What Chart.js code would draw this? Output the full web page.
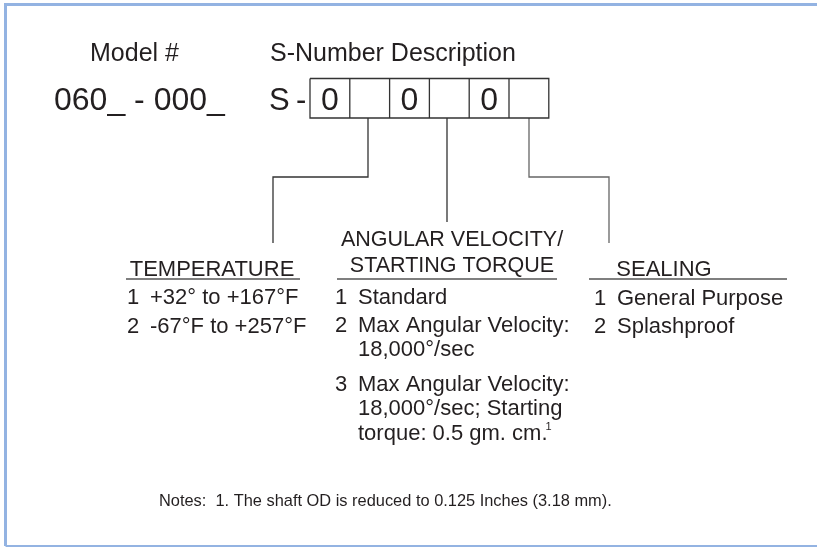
<!DOCTYPE html>
<html>
<head>
<meta charset="utf-8">
<title>S-Number Description</title>
<script src="https://cdn.jsdelivr.net/npm/chart.js@4.4.1/dist/chart.umd.min.js"></script>
<style>
	html, body { margin: 0; padding: 0; background: #ffffff; }
	canvas { display: block; }
</style>
</head>
<body>
<canvas id="chart-area" width="817" height="547"></canvas>
<script>
// --- data ---
var modelLabel = 'Model #';
var modelNumber = '060_ - 000_';
var codeTitle = 'S-Number Description';
var codePrefix = ['S', '-'];
var codeCells = ['0', '', '0', '', '0', ''];
var groupTitles = [['TEMPERATURE'], ['ANGULAR VELOCITY/', 'STARTING TORQUE'], ['SEALING']];
var temperatureOptions = [['+32° to +167°F'], ['-67°F to +257°F']];
var velocityOptions = [['Standard'], ['Max Angular Velocity:', '18,000°/sec'], ['Max Angular Velocity:', '18,000°/sec; Starting', 'torque: 0.5 gm. cm.']];
var sealingOptions = [['General Purpose'], ['Splashproof']];
var footnoteOn = [1, 2, 2]; // group, option, line that carries the note mark
var noteText = 'Notes:  1. The shaft OD is reduced to 0.125 Inches (3.18 mm).';

// --- layout (pixels) ---
var W = 817, H = 547;
var INK = '#231f20';
var LINE = '#333333';
var FRAME = '#93b3e2';
var FONT = '"Liberation Sans", Arial, sans-serif';
var box = { left: 310, top: 78.5, bottom: 118, cell: 39.8 };
var groups = [
	{ center: 212, uLeft: 126, uRight: 300, titleBase: [276], titleSize: 22, num: 127, text: 150, rows: [304, 333], opts: temperatureOptions },
	{ center: 452, uLeft: 337, uRight: 557, titleBase: [246, 272], titleSize: 21.5, num: 335, text: 358, rows: [304, 332, 356, 391, 415, 440], opts: velocityOptions },
	{ center: 664, uLeft: 589, uRight: 787, titleBase: [276], titleSize: 22, num: 594, text: 617, rows: [305, 333], opts: sealingOptions }
];
var connectors = [
	[[368, 118], [368, 177], [273, 177], [273, 243]],
	[[447, 118], [447, 222]],
	[[529, 118], [529, 177], [609, 177], [609, 243]]
];

function pts(list) {
	return list.map(function(p){ return { x: p[0], y: p[1] }; });
}
function seg(data, color, width) {
	return { data: data, showLine: true, borderColor: color, borderWidth: width, pointRadius: 0, tension: 0, fill: false, clip: false };
}

var datasets = [];
// frame
datasets.push(seg(pts([[5.5, 546], [5.5, 4.5], [817, 4.5]]), FRAME, 3));
datasets.push(seg(pts([[5.5, 546], [817, 546]]), FRAME, 2));
// code boxes
var boxRight = box.left + box.cell * codeCells.length;
datasets.push(seg(pts([[box.left, box.top], [boxRight, box.top], [boxRight, box.bottom], [box.left, box.bottom], [box.left, box.top]]), LINE, 1.3));
for (var c = 1; c < codeCells.length; c++) {
	var cx = box.left + box.cell * c;
	datasets.push(seg(pts([[cx, box.top], [cx, box.bottom]]), LINE, 1.3));
}
// connectors
connectors.forEach(function(path, i){
	datasets.push(seg(pts(path), i == 2 ? '#666666' : LINE, 1.3));
});
// underlines
groups.forEach(function(g){
	datasets.push(seg(pts([[g.uLeft, 279], [g.uRight, 279]]), '#555555', 1.3));
});

var textPlugin = {
	id: 'diagramText',
	afterDatasetsDraw: function(chart) {
		var ctx = chart.ctx;
		var sx = chart.scales.x, sy = chart.scales.y;
		function put(str, x, y, size, align) {
			ctx.font = size + 'px ' + FONT;
			ctx.textAlign = align || 'left';
			ctx.textBaseline = 'alphabetic';
			ctx.fillStyle = INK;
			ctx.fillText(str, sx.getPixelForValue(x), sy.getPixelForValue(y));
		}
		ctx.save();
		put(modelLabel, 90, 61, 25);
		put(codeTitle, 270, 61, 25);
		put(modelNumber, 54, 110, 32);
		put(codePrefix[0], 269, 110, 31);
		put(codePrefix[1], 296, 110, 31);
		codeCells.forEach(function(v, i){
			if (v) put(v, box.left + box.cell * (i + 0.5), 110, 32, 'center');
		});
		groups.forEach(function(g, gi){
			groupTitles[gi].forEach(function(t, ti){
				put(t, g.center, g.titleBase[ti], g.titleSize, 'center');
			});
			var r = 0;
			g.opts.forEach(function(lines, oi){
				put(String(oi + 1), g.num, g.rows[r], 22);
				lines.forEach(function(line, li){
					put(line, g.text, g.rows[r], 22);
					if (gi == footnoteOn[0] && oi == footnoteOn[1] && li == footnoteOn[2]) {
						ctx.font = '22px ' + FONT;
						var w = ctx.measureText(line).width;
						put('1', g.text + w - 2, g.rows[r] - 10, 11);
					}
					r++;
				});
			});
		});
		put(noteText, 159, 506, 16.4);
		ctx.restore();
	}
};

var config = {
	type: 'scatter',
	data: { datasets: datasets },
	options: {
		responsive: false,
		animation: false,
		devicePixelRatio: 1,
		layout: { padding: 0 },
		plugins: { legend: { display: false }, tooltip: { enabled: false } },
		scales: {
			x: { type: 'linear', min: 0, max: W, display: false },
			y: { type: 'linear', min: 0, max: H, reverse: true, display: false }
		}
	},
	plugins: [textPlugin]
};

new Chart(document.getElementById('chart-area').getContext('2d'), config);
</script>
</body>
</html>
